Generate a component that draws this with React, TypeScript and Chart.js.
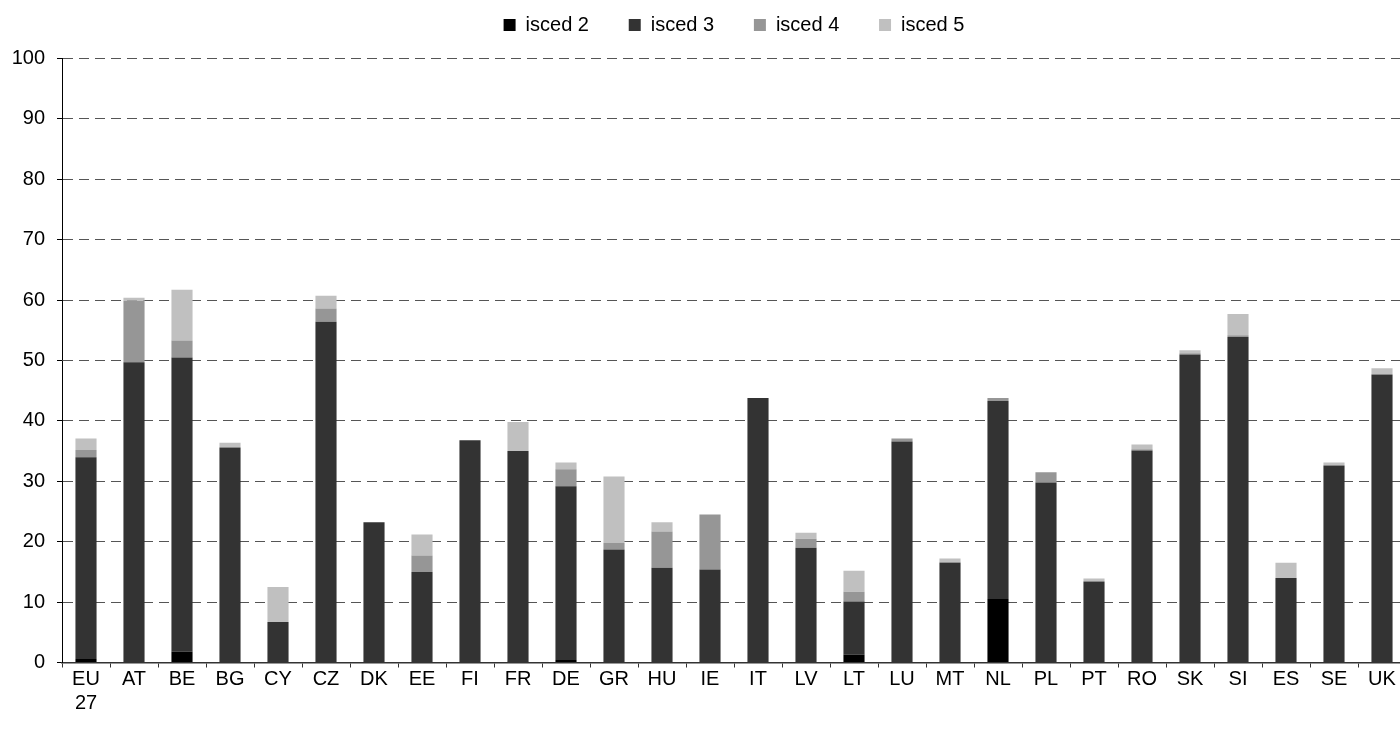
import React, { useEffect, useRef } from "react";
import { Chart, registerables } from "chart.js";

Chart.register(...registerables);

const categories: (string | string[])[] = [
  ["EU", "27"], "AT", "BE", "BG", "CY", "CZ", "DK", "EE", "FI", "FR", "DE", "GR", "HU", "IE",
  "IT", "LV", "LT", "LU", "MT", "NL", "PL", "PT", "RO", "SK", "SI", "ES", "SE", "UK",
];

const seriesNames = ["isced 2", "isced 3", "isced 4", "isced 5"];
const seriesColors = ["#000000", "#333333", "#969696", "#c0c0c0"];

const isced2 = [0.6, 0, 1.8, 0, 0, 0, 0, 0, 0, 0.2, 0.4, 0, 0, 0, 0, 0.1, 1.3, 0, 0.1, 10.5, 0, 0.1, 0, 0, 0, 0, 0, 0];
const isced3 = [33.4, 49.7, 48.7, 35.6, 6.7, 56.4, 23.2, 15.0, 36.8, 34.8, 28.8, 18.7, 15.7, 15.4, 43.8, 18.9, 8.8, 36.6, 16.4, 32.8, 29.8, 13.3, 35.1, 51.0, 53.9, 14.0, 32.6, 47.7];
const isced4 = [1.2, 10.2, 2.8, 0, 0, 2.2, 0, 2.7, 0, 0, 2.8, 1.1, 6.0, 9.1, 0, 1.5, 1.6, 0.5, 0.2, 0.5, 1.7, 0, 0.2, 0.2, 0.3, 0, 0, 0];
const isced5 = [1.9, 0.5, 8.4, 0.8, 5.8, 2.1, 0, 3.5, 0, 4.8, 1.1, 11.0, 1.5, 0, 0, 1.0, 3.5, 0, 0.5, 0, 0, 0.5, 0.8, 0.5, 3.5, 2.5, 0.5, 1.0];

const yTicks = [0, 10, 20, 30, 40, 50, 60, 70, 80, 90, 100];

const FONT = "'Liberation Sans', Arial, sans-serif";

export default function App() {
  const ref = useRef<HTMLCanvasElement | null>(null);

  useEffect(() => {
    if (!ref.current) return;
    const values = [isced2, isced3, isced4, isced5];
    const chart = new Chart(ref.current, {
      type: "bar",
      data: {
        labels: categories,
        datasets: seriesNames.map((name, i) => ({
          label: name,
          data: values[i],
          backgroundColor: seriesColors[i],
          borderWidth: 0,
          barPercentage: 0.44,
          categoryPercentage: 1,
          stack: "s",
        })),
      },
      options: {
        responsive: false,
        animation: false,
        events: [],
        layout: { padding: { top: 3, left: 0, right: 0, bottom: 0 } },
        font: { family: FONT },
        plugins: {
          tooltip: { enabled: false },
          subtitle: {
            display: true,
            text: " ",
            position: "top",
            weight: 500,
            font: { size: 1, lineHeight: 1 },
            padding: { top: 0, bottom: 12.5 },
          },
          legend: {
            position: "top",
            fullSize: false,
            labels: {
              boxWidth: 12,
              boxHeight: 12,
              padding: 12,
              color: "#000",
              font: { family: FONT, size: 20 },
              generateLabels: (c: any) => {
                const items = Chart.defaults.plugins.legend.labels.generateLabels(c);
                return items.map((it: any, i: number) => ({
                  ...it,
                  text: i < items.length - 1 ? it.text + "     " : it.text,
                  lineWidth: 0,
                }));
              },
            },
          },
        },
        scales: {
          x: {
            stacked: true,
            offset: true,
            grid: {
              display: true,
              offset: true,
              drawOnChartArea: false,
              drawTicks: true,
              tickLength: 5,
              tickColor: "#333",
              color: "#333",
            },
            border: { display: true, color: "#333", width: 1.5 },
            ticks: {
              autoSkip: false,
              maxRotation: 0,
              minRotation: 0,
              padding: 0,
              color: "#000",
              font: { family: FONT, size: 20 },
            },
            afterFit: (s: any) => {
              s.height = 731 - 662.5;
            },
          },
          y: {
            stacked: true,
            min: 0,
            max: 100,
            afterBuildTicks: (s: any) => {
              s.ticks = yTicks.map((v) => ({ value: v }));
            },
            grid: {
              display: true,
              drawTicks: true,
              tickLength: 5,
              tickColor: "#000",
              color: "#555",
              lineWidth: 1,
            },
            border: { display: true, color: "#000", width: 1, dash: [10, 6] },
            ticks: {
              padding: 12,
              color: "#000",
              font: { family: FONT, size: 20 },
            },
            afterFit: (s: any) => {
              s.width = 62;
            },
          },
        },
      },
    } as any);
    return () => chart.destroy();
  }, []);

  return (
    <div
      style={{
        position: "absolute",
        left: 0,
        top: 0,
        width: 1400,
        height: 731,
        overflow: "hidden",
        background: "#fff",
      }}
    >
      <canvas ref={ref} width={1406} height={731} style={{ display: "block" }} />
    </div>
  );
}
